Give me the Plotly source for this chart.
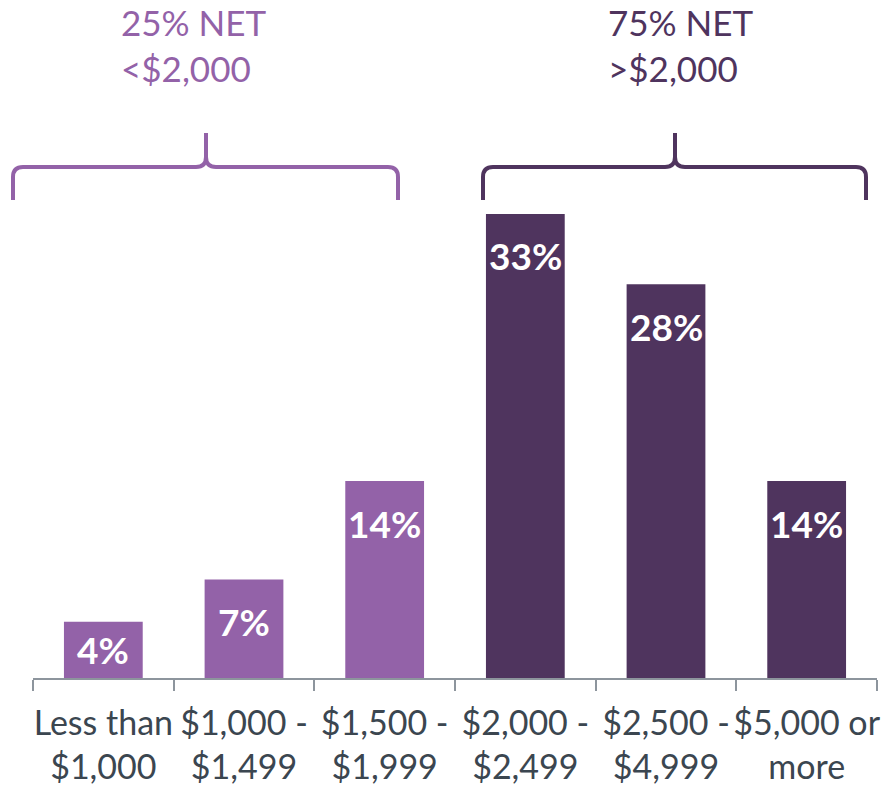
import plotly.graph_objects as go

categories = ["Less than<br>$1,000", "$1,000 -<br>$1,499", "$1,500 -<br>$1,999",
              "$2,000 -<br>$2,499", "$2,500 -<br>$4,999", "$5,000 or<br>more"]
values = [4, 7, 14, 33, 28, 14]
labels = ["4%", "7%", "14%", "33%", "28%", "14%"]
group = ["low", "low", "low", "high", "high", "high"]
group_titles = {"low": "25% NET<br><$2,000", "high": "75% NET<br>>$2,000"}

LIGHT = "#9362A8"
DARK = "#4F345E"
colors = {"low": LIGHT, "high": DARK}
FONT = "Lato"

W, H = 896, 786
# plot area: x 33..877, y 10..678
ML, MT = 33, 10
MR = W - 877
MB = H - 678
plot_w = W - ML - MR
plot_h = H - MT - MB
y_max = 47.5
ppu = plot_h / y_max

fig = go.Figure()
fig.add_trace(go.Bar(
    x=categories, y=values,
    marker=dict(color=[colors[g] for g in group], line=dict(width=0)),
    width=0.56, hoverinfo="skip",
))

# data labels inside bar tops
for c, v, t in zip(categories, values, labels):
    h = v * ppu
    fig.add_annotation(x=c, y=v, xref="x", yref="y", text=t, showarrow=False,
                       yanchor="middle", yshift=-min(42, h / 2),
                       font=dict(family=FONT, size=37, color="white", weight="bold"))

def px2paper_x(px):
    return (px - ML) / plot_w

def px2paper_y(py):
    return (H - MB - py) / plot_h

def brace(x0p, x1p, xmp, yh_p, yend_p, ypeak_p, color):
    x0, x1, xm = px2paper_x(x0p), px2paper_x(x1p), px2paper_x(xmp)
    yh, ye, yp = px2paper_y(yh_p), px2paper_y(yend_p), px2paper_y(ypeak_p)
    rx, ry = 10 / plot_w, 10 / plot_h
    path = (f"M {x0},{ye} L {x0},{yh - ry} Q {x0},{yh} {x0 + rx},{yh} "
            f"L {xm - rx},{yh} Q {xm},{yh} {xm},{yh + ry} L {xm},{yp} "
            f"M {xm},{yh + ry} Q {xm},{yh} {xm + rx},{yh} "
            f"L {x1 - rx},{yh} Q {x1},{yh} {x1},{yh - ry} L {x1},{ye}")
    fig.add_shape(type="path", path=path, xref="paper", yref="paper",
                  line=dict(color=color, width=4))

brace(13, 398, 206, 167, 200, 133, LIGHT)
brace(483, 866, 675, 167, 200, 133, DARK)

fig.add_annotation(x=px2paper_x(119), y=px2paper_y(45), xref="paper", yref="paper",
                   text=group_titles["low"], showarrow=False, xanchor="left", yanchor="middle",
                   align="left", font=dict(family=FONT, size=35, color=LIGHT))
fig.add_annotation(x=px2paper_x(606), y=px2paper_y(45), xref="paper", yref="paper",
                   text=group_titles["high"], showarrow=False, xanchor="left", yanchor="middle",
                   align="left", font=dict(family=FONT, size=35, color=DARK))

fig.update_layout(
    width=W, height=H, margin=dict(l=ML, r=MR, t=MT, b=MB, autoexpand=False),
    paper_bgcolor="white", plot_bgcolor="white", showlegend=False,
    xaxis=dict(type="category", showline=True, linecolor="#8D959D", linewidth=2,
               ticks="outside", tickson="boundaries", ticklen=11, tickcolor="#8D959D",
               tickwidth=2, showgrid=False, tickangle=0, automargin=False,
               ticklabelstandoff=14,
               tickfont=dict(family=FONT, size=34, color="#3B4650")),
    yaxis=dict(range=[0, y_max], visible=False, showgrid=False, automargin=False),
    bargap=0.44,
)

fig.write_html("out.html", config={"displayModeBar": False},
               post_script="document.body.style.margin='0';")
